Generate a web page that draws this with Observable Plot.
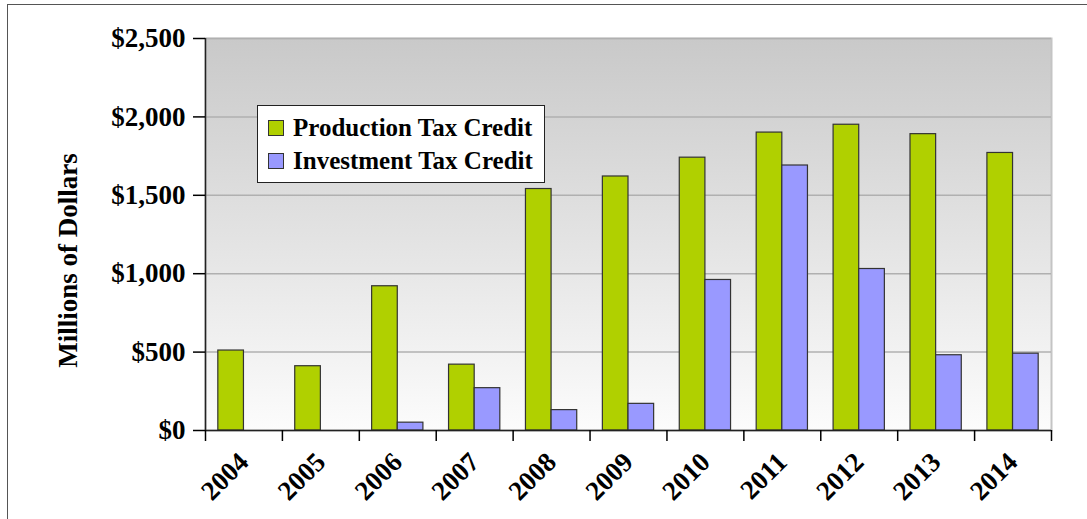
<!DOCTYPE html>
<html>
<head>
<meta charset="utf-8">
<script src="https://cdn.jsdelivr.net/npm/d3@7"></script>
<script src="https://cdn.jsdelivr.net/npm/@observablehq/plot@0.6"></script>
<style>
  html, body { margin: 0; padding: 0; background: #fff; }
  #wrap { position: relative; width: 1087px; height: 519px; overflow: hidden; font-family: "Liberation Serif", "Times New Roman", serif; }
  #border { position: absolute; left: 7px; top: 4px; width: 1200px; height: 700px; border: 1.5px solid #555; box-sizing: border-box; }
  #chart { position: absolute; left: 0; top: 0; }
  #legend { position: absolute; left: 257px; top: 105px; width: 288px; height: 78px; box-sizing: border-box; background: #fff; border: 1.5px solid #222; font-weight: bold; font-size: 25px; color: #000; }
  .item { position: absolute; left: 10px; height: 30px; display: flex; align-items: center; white-space: nowrap; }
  .sw { width: 16px; height: 16px; border: 1.5px solid #333; box-sizing: border-box; margin-right: 9px; }
</style>
</head>
<body>
<div id="wrap">
  <div id="border"></div>
  <div id="chart"></div>
  <div id="legend"></div>
</div>
<script>
const years = [2004, 2005, 2006, 2007, 2008, 2009, 2010, 2011, 2012, 2013, 2014];
const productionTaxCredit = [510, 410, 920, 420, 1540, 1620, 1740, 1900, 1950, 1890, 1770];
const investmentTaxCredit = [null, null, 50, 270, 130, 170, 960, 1690, 1030, 480, 490];
const seriesNames = ["Production Tax Credit", "Investment Tax Credit"];
const seriesColors = ["#b0d000", "#9999ff"];
const yTicks = [0, 500, 1000, 1500, 2000, 2500];
const yLabel = "Millions of Dollars";

const seriesValues = [productionTaxCredit, investmentTaxCredit];
const rows = [];
seriesNames.forEach((s, si) => {
  years.forEach((yr, i) => {
    const v = seriesValues[si][i];
    if (v != null) rows.push({year: yr, series: s, si, value: v});
  });
});

const groupWidth = 2 / 3; // fraction of a year slot taken by the bar pair
const boundaries = years.map(y => y - 0.5).concat([years[years.length - 1] + 0.5]);

const plot = Plot.plot({
  width: 1087,
  height: 519,
  marginLeft: 205,
  marginTop: 38,
  marginRight: 36,
  marginBottom: 89,
  style: {fontFamily: "'Liberation Serif', 'Times New Roman', serif", background: "transparent", color: "#000"},
  x: {type: "linear", domain: [boundaries[0], boundaries[boundaries.length - 1]]},
  y: {domain: [0, 2500]},
  color: {domain: seriesNames, range: seriesColors},
  marks: [
    Plot.frame({fill: "url(#bgGrad)", stroke: "#c4c4c4", strokeWidth: 2}),
    Plot.gridY(yTicks.slice(1), {stroke: "#b0b0b0", strokeOpacity: 1, strokeWidth: 1.5}),
    Plot.rectY(rows, {
      x1: d => d.year - groupWidth / 2 + d.si * groupWidth / 2,
      x2: d => d.year + d.si * groupWidth / 2,
      y1: 0,
      y2: "value",
      fill: "series",
      stroke: "#333",
      strokeWidth: 1.2
    }),
    Plot.ruleY([0], {stroke: "#222", strokeWidth: 1.5}),
    Plot.ruleX([boundaries[0]], {stroke: "#222", strokeWidth: 1.5}),
    Plot.axisY({
      ticks: yTicks,
      tickFormat: d => "$" + d3.format(",")(d),
      tickSize: 12,
      tickPadding: 8,
      strokeWidth: 1.5,
      fontSize: 27,
      fontWeight: "bold",
      label: yLabel,
      labelAnchor: "center",
      labelArrow: "none",
      labelOffset: 148
    }),
    Plot.axisX({
      ticks: boundaries,
      tickFormat: () => "",
      tickSize: 11,
      strokeWidth: 1.5
    }),
    Plot.axisX({
      ticks: years,
      tickFormat: d => String(d),
      tickSize: 0,
      tickPadding: 27,
      tickRotate: -45,
      fontSize: 27,
      fontWeight: "bold",
      label: null
    })
  ]
});

const svg = d3.select(plot);
const grad = svg.insert("defs", ":first-child").append("linearGradient")
  .attr("id", "bgGrad").attr("x1", 0).attr("y1", 0).attr("x2", 0).attr("y2", 1);
grad.append("stop").attr("offset", "0%").attr("stop-color", "#c9c9c9");
grad.append("stop").attr("offset", "100%").attr("stop-color", "#fcfcfc");
// axis label styling and placement
const lab = svg.select("[aria-label='y-axis label']");
lab.attr("font-size", 27).attr("font-weight", "bold");
lab.selectAll("text").attr("font-size", 27).attr("font-weight", "bold");
const prev = lab.attr("transform") || "";
lab.attr("transform", "translate(0,26) " + prev);

document.getElementById("chart").appendChild(plot);

const legend = document.getElementById("legend");
seriesNames.forEach((s, i) => {
  const item = document.createElement("div");
  item.className = "item";
  item.style.top = (i === 0 ? 7 : 40) + "px";
  const sw = document.createElement("div");
  sw.className = "sw";
  sw.style.background = seriesColors[i];
  item.appendChild(sw);
  item.appendChild(document.createTextNode(s));
  legend.appendChild(item);
});
</script>
</body>
</html>
